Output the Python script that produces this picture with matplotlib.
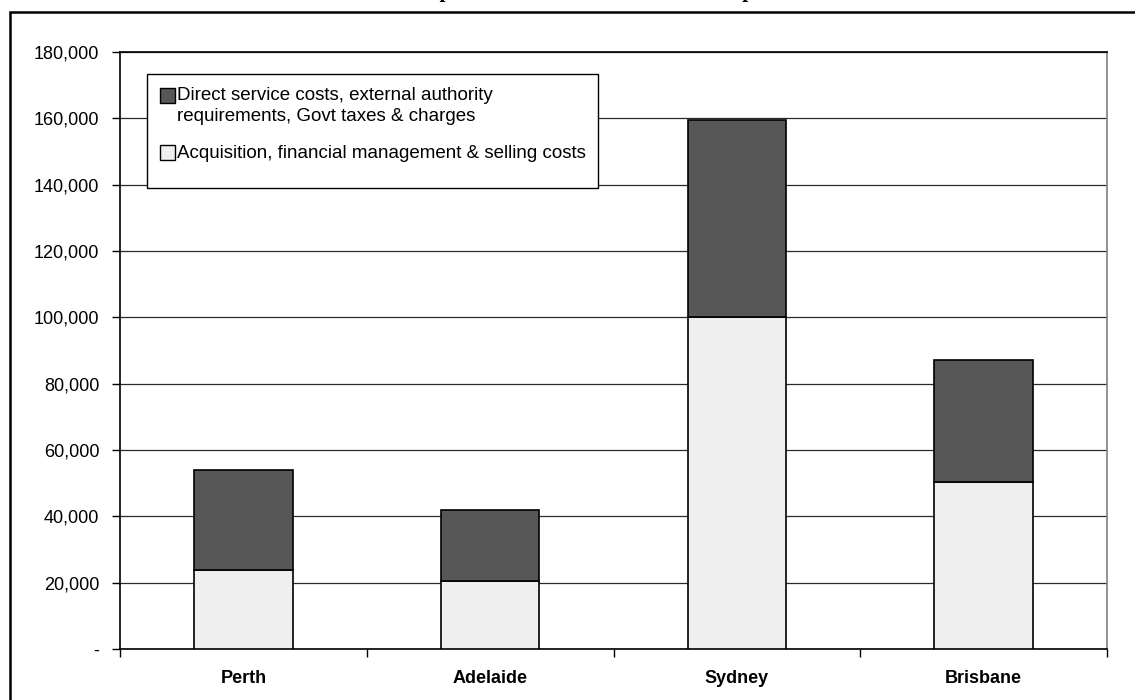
import matplotlib.pyplot as plt
import matplotlib.patches as mpatches
from matplotlib.ticker import FuncFormatter
import numpy as np

plt.rcParams['font.family'] = ['Liberation Sans', 'DejaVu Sans']

cities = ['Perth', 'Adelaide', 'Sydney', 'Brisbane']
acquisition_costs = [23900, 20600, 100100, 50300]
direct_costs = [30000, 21200, 59300, 36900]
y_ticks = list(range(0, 180001, 20000))

acq_label = 'Acquisition, financial management & selling costs'
direct_label = 'Direct service costs, external authority\nrequirements, Govt taxes & charges'
acq_color = '#efefef'
direct_color = '#575757'

fig = plt.figure(figsize=(11.35, 7), dpi=100)
ax = fig.add_axes([120 / 1135, 1 - 649 / 700, 987 / 1135, 597 / 700])

x = np.arange(len(cities))
ax.bar(x, acquisition_costs, width=0.4, color=acq_color, edgecolor='black',
       linewidth=1.2, zorder=3)
ax.bar(x, direct_costs, width=0.4, bottom=acquisition_costs, color=direct_color,
       edgecolor='black', linewidth=1.2, zorder=3)

ax.set_xlim(-0.5, len(cities) - 0.5)
ax.set_ylim(0, 180000)
ax.set_yticks(y_ticks)
ax.yaxis.set_major_formatter(FuncFormatter(lambda v, p: '-' if v == 0 else f'{v:,.0f}'))
ax.tick_params(axis='y', direction='out', length=6, width=1, labelsize=13, pad=9)
ax.grid(axis='y', color='#2a2a2a', linewidth=0.9, zorder=0)

# category labels centred, ticks on the category boundaries
ax.set_xticks(x)
ax.set_xticklabels(cities, fontsize=13, fontweight='bold')
ax.tick_params(axis='x', length=0, pad=15)
ax.set_xticks(np.arange(len(cities) + 1) - 0.5, minor=True)
ax.tick_params(axis='x', which='minor', direction='out', length=6, width=1)

ax.spines['left'].set_color('black')
ax.spines['bottom'].set_color('black')
ax.spines['top'].set_color('black')
ax.spines['right'].set_color('#808080')
for s in ax.spines.values():
    s.set_linewidth(1.2)


def px(xp, yp):
    # pixel position inside the plot area -> axes fraction
    return (xp - 120) / 987, (649 - yp) / 597


# legend, built by hand: Excel-style box with the key square on the first line
bx0, by0 = px(147, 188)
bx1, by1 = px(598, 74)
ax.add_patch(mpatches.Rectangle((bx0, by0), bx1 - bx0, by1 - by0,
                                transform=ax.transAxes, facecolor='white',
                                edgecolor='black', linewidth=1.0, zorder=4,
                                clip_on=False))
sq_w = 15 / 987
sq_h = 15 / 597
for color, label, sq_top, text_mid in [(direct_color, direct_label, 88, 106),
                                       (acq_color, acq_label, 145, 153)]:
    sx, sy = px(160, sq_top + 15)
    ax.add_patch(mpatches.Rectangle((sx, sy), sq_w, sq_h, transform=ax.transAxes,
                                    facecolor=color, edgecolor='black',
                                    linewidth=1.0, zorder=5, clip_on=False))
    tx, ty = px(177, text_mid)
    ax.text(tx, ty, label, transform=ax.transAxes, fontsize=13.5, ha='left',
            va='center', linespacing=1.35, zorder=6)

# outer chart border, running off the right and bottom edges
fig.patches.append(mpatches.Rectangle((10 / 1135, -0.1), 1.2, 1.1 - 12 / 700,
                                      transform=fig.transFigure, fill=False,
                                      edgecolor='black', linewidth=1.8))

# title sits above the top edge, only its descenders reach the canvas
fig.text(396 / 1135, 1 + 2.5 / 700, 'Component breakdown of total development costs',
         family=['Liberation Serif', 'DejaVu Serif'], fontweight='bold',
         fontsize=15.3, ha='left', va='baseline')

fig.savefig('out.png', dpi=100)
